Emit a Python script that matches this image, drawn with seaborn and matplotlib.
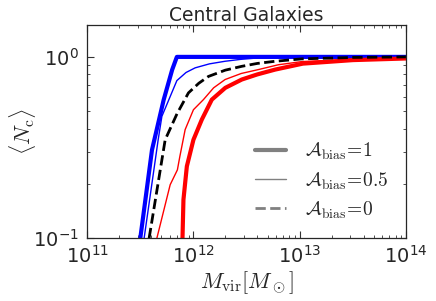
import seaborn as sns
import matplotlib.pyplot as plt
from matplotlib.lines import Line2D
import numpy as np

# Values (log10 of halo mass, <N_c>)
blue_thick_logm = [11.50, 11.61, 11.72, 11.80, 11.844, 14.0]
blue_thick_n = [0.10, 0.307, 0.58, 0.85, 1.0, 1.0]

blue_thin_logm = [11.536, 11.668, 11.703, 11.844, 11.93, 12.016, 12.15, 12.298, 12.45, 12.609, 13.0, 14.0]
blue_thin_n = [0.10, 0.349, 0.47, 0.74, 0.82, 0.87, 0.915, 0.946, 0.97, 0.987, 0.997, 1.0]

dash_logm = [11.583, 11.734, 11.845, 11.953, 12.05, 12.141, 12.3, 12.455, 12.6, 12.769, 13.02, 13.5, 14.0]
dash_n = [0.10, 0.349, 0.485, 0.633, 0.715, 0.78, 0.845, 0.887, 0.92, 0.946, 0.975, 0.993, 1.0]

red_thin_logm = [11.656, 11.781, 11.849, 11.872, 11.922, 12.0, 12.094, 12.19, 12.298, 12.45,
                 12.611, 12.8, 13.02, 13.5, 14.0]
red_thin_n = [0.10, 0.197, 0.238, 0.282, 0.397, 0.511, 0.581, 0.675, 0.75, 0.81,
              0.851, 0.905, 0.942, 0.97, 0.985]

red_thick_logm = [11.897, 11.906, 11.938, 12.0, 12.079, 12.173, 12.3, 12.455, 12.6, 12.769,
                  12.9, 13.03, 13.5, 14.0]
red_thick_n = [0.10, 0.163, 0.249, 0.349, 0.451, 0.581, 0.675, 0.75, 0.80, 0.851,
               0.884, 0.918, 0.96, 0.98]

legend_labels = [r'$\mathcal{A}_{\rm bias}\!=\!1$',
                 r'$\mathcal{A}_{\rm bias}\!=\!0.5$',
                 r'$\mathcal{A}_{\rm bias}\!=\!0$']

sns.set_style("ticks")
plt.rcParams['font.family'] = 'DejaVu Sans'
plt.rcParams['axes.unicode_minus'] = False
plt.rcParams['xtick.direction'] = 'in'
plt.rcParams['ytick.direction'] = 'in'
plt.rcParams['xtick.top'] = True
plt.rcParams['ytick.right'] = True

fig, ax = plt.subplots(figsize=(4.36, 3.01), dpi=100)
fig.subplots_adjust(left=0.2, right=0.931, bottom=0.209, top=0.917)

def draw(logm, n, color, lw, ls='-'):
    sns.lineplot(x=10 ** np.array(logm), y=n, ax=ax, color=color, lw=lw,
                 linestyle=ls, sort=False, estimator=None)

draw(blue_thick_logm, blue_thick_n, 'blue', 3.0)
draw(blue_thin_logm, blue_thin_n, 'blue', 1.0)
draw(red_thin_logm, red_thin_n, 'red', 1.0)
draw(red_thick_logm, red_thick_n, 'red', 3.0)
draw(dash_logm, dash_n, 'black', 2.0, '--')

ax.set_xscale('log')
ax.set_yscale('log')
ax.set_xlim(1e11, 1e14)
ax.set_ylim(0.1, 1.5)

ax.tick_params(which='major', length=5, width=0.8, labelsize=14, color='0.2')
ax.tick_params(which='minor', length=2.5, width=0.6, color='0.2')
ax.tick_params(axis='x', pad=5)
ax.tick_params(axis='y', pad=6)
for s in ax.spines.values():
    s.set_color('0.15')
    s.set_linewidth(0.9)

ax.set_title('Central Galaxies', fontsize=13.5, pad=3)
ax.set_xlabel(r'$M_{\rm vir}[M_\odot]$', fontsize=16, math_fontfamily='cm', labelpad=2)
ax.set_ylabel(r'$\langle N_{\rm c}\rangle$', fontsize=16, math_fontfamily='cm')
ax.yaxis.set_label_coords(-0.155, 0.5)

handles = [Line2D([], [], color='gray', lw=3.0),
           Line2D([], [], color='gray', lw=1.0),
           Line2D([], [], color='gray', lw=2.0, ls='--')]
leg = ax.legend(handles, legend_labels, loc='lower right', bbox_to_anchor=(1.0, 0.0),
                frameon=False, fontsize=14, handlelength=1.6, handletextpad=1.0,
                labelspacing=0.4)
for t in leg.get_texts():
    t.set_math_fontfamily('cm')

plt.savefig('out.png', dpi=100)
